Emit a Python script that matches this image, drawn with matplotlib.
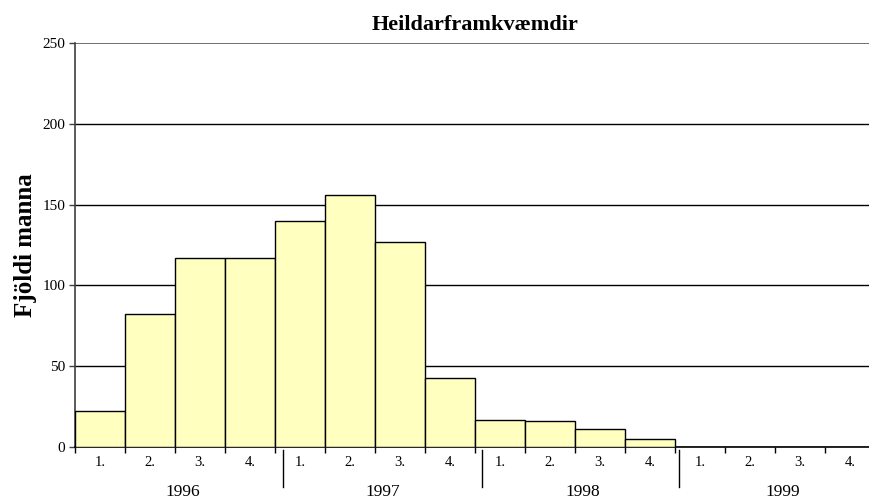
import matplotlib
matplotlib.use("Agg")
import matplotlib.pyplot as plt
from matplotlib.transforms import blended_transform_factory, offset_copy

title = "Heildarframkvæmdir"
ylabel = "Fjöldi manna"
years = ["1996", "1997", "1998", "1999"]
quarters = ["1.", "2.", "3.", "4."]
values = [22, 82, 117, 117, 140, 156, 127, 43, 17, 16, 11, 5, 0, 0, 0, 0]
yticks = [0, 50, 100, 150, 200, 250]

plt.rcParams['font.family'] = ['Liberation Serif', 'DejaVu Serif']

fig = plt.figure(figsize=(8.69, 5.03), dpi=100)
W, H = 869, 503
ax = fig.add_axes([75 / W, 56 / H, 800 / W, 404 / H])

n = len(values)
x = list(range(n))
ax.bar(x, values, width=1.0, align='edge', color='#FFFFC0', edgecolor='black',
       linewidth=1.0, zorder=3)

ax.set_xlim(0, n)
ax.set_ylim(0, 250)
ax.set_yticks(yticks)
ax.set_yticklabels([str(v) for v in yticks], fontsize=11)
for v in yticks[1:-1]:
    ax.axhline(v, color='black', linewidth=1.0, zorder=1)
ax.axhline(yticks[-1], color='#707070', linewidth=1.4, zorder=1)

ax.set_xticks(range(n + 1))
ax.set_xticklabels([])
ax.tick_params(axis='x', direction='out', length=4, width=1, color='black')
ax.tick_params(axis='y', direction='out', length=4, width=1, color='#404040', pad=3)

for s in ['top', 'right']:
    ax.spines[s].set_visible(False)
ax.spines['left'].set_color('#404040')
ax.spines['left'].set_linewidth(1.2)
ax.spines['bottom'].set_color('black')
ax.spines['bottom'].set_linewidth(1.2)

trans = blended_transform_factory(ax.transData, ax.transAxes)
# quarter labels
for i in range(n):
    ax.text(i + 0.5, 0, quarters[i % 4],
            transform=offset_copy(trans, fig=fig, x=0, y=-16, units='dots'),
            ha='center', va='center', fontsize=10.5)
# year labels and separators
nq = len(quarters)
for k, yr in enumerate(years):
    ax.text(k * nq + nq / 2 + 0.16, 0, yr,
            transform=offset_copy(trans, fig=fig, x=0, y=-45, units='dots'),
            ha='center', va='center', fontsize=12.5)
sep_shift = [0.15, 0.13, 0.09]
for k in range(1, len(years)):
    xs = k * nq + sep_shift[k - 1]
    xd = ax.transData.transform((xs, 0))[0]
    x0 = fig.transFigure.inverted().transform((xd, 0))[0]
    fig.add_artist(plt.Line2D([x0, x0], [(H - 450) / H, (H - 487) / H],
                              transform=fig.transFigure, color='black', lw=1.0))

ax.set_title(title, fontsize=16, fontweight='bold', pad=9)
ax.set_ylabel(ylabel, fontsize=18, fontweight='bold', labelpad=4)

fig.savefig("out.png", dpi=100)
